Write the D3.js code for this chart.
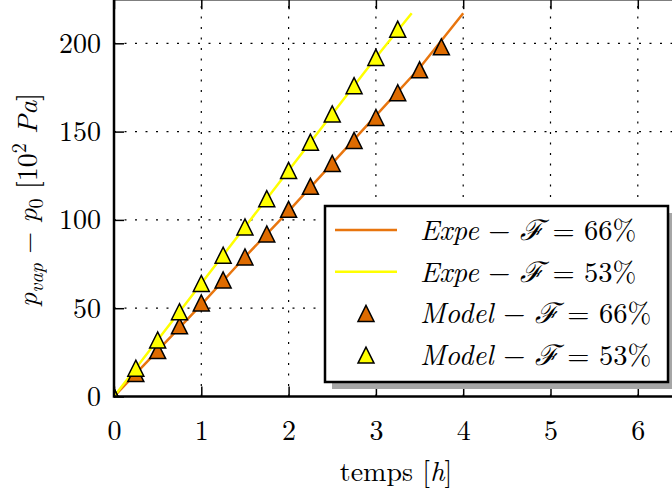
<!DOCTYPE html>
<html><head><meta charset="utf-8">
<script src="https://cdn.jsdelivr.net/npm/d3@7"></script>
<style>html,body{margin:0;padding:0;background:#fff;overflow:hidden}svg{display:block}</style>
</head><body>
<script>
// ---- data ----
const modelT66 = [0,0.25,0.5,0.75,1,1.25,1.5,1.75,2,2.25,2.5,2.75,3,3.25,3.5,3.75];
const model66  = [0,13,26,40,53,66,79,92,106,119,132,145,158,172,185,198];
const modelT53 = [0,0.25,0.5,0.75,1,1.25,1.5,1.75,2,2.25,2.5,2.75,3,3.25];
const model53  = [0,16,32,48,64,80,96,112,128,144,160,176,192,208];
const expeT66 = [0,0.5,1,1.5,2,2.5,3,3.5,4.0];
const expe66  = [0,26,52,79,105,132,159,186,217];
const expeT53 = [0,0.5,1,1.5,2,2.5,3,3.41];
const expe53  = [0,32,64,96,128,160,192,217];
const xTicks = [0,1,2,3,4,5,6];
const yTicks = [0,50,100,150,200];
const legendLabels = [
  {kind:"line", color:"#e8750e", pre:"Expe", val:" = 66%"},
  {kind:"line", color:"#ffff00", pre:"Expe", val:" = 53%"},
  {kind:"tri", color:"#de6b00", pre:"Model", val:" = 66%"},
  {kind:"tri", color:"#ffff00", pre:"Model", val:" = 53%"}
];

const W = 672, H = 494;
const svg = d3.select("body").append("svg").attr("width", W).attr("height", H);
const x = d3.scaleLinear().domain([0, 6.5]).range([114, 114 + 6.5*87.3]);
const y = d3.scaleLinear().domain([0, 225]).range([396.5, 396.5 - 225*1.766]);
const FONT = "'Latin Modern Roman', 'Liberation Serif', serif";

svg.append("defs").append("clipPath").attr("id","clip")
  .append("rect").attr("x", x(0)).attr("y", y(225)).attr("width", x(6.5)-x(0)).attr("height", y(0)-y(225));

// grid
const grid = svg.append("g").attr("stroke","#000").attr("stroke-width",1.2).attr("stroke-dasharray","2,8.5");
xTicks.filter(d=>d>0).forEach(d=>grid.append("line").attr("x1",x(d)).attr("x2",x(d)).attr("y1",y(0)).attr("y2",y(225)));
yTicks.filter(d=>d>0).forEach(d=>grid.append("line").attr("x1",x(0)).attr("x2",x(6.5)).attr("y1",y(d)).attr("y2",y(d)));

// axes with inward ticks
const axB = d3.axisBottom(x).tickValues(xTicks).tickSizeInner(-10).tickSizeOuter(0).tickFormat(d3.format("d")).tickPadding(24);
const axT = d3.axisTop(x).tickValues(xTicks).tickSizeInner(-10).tickSizeOuter(0).tickFormat("");
const axL = d3.axisLeft(y).tickValues(yTicks).tickSizeInner(-10).tickSizeOuter(0).tickFormat(d3.format("d")).tickPadding(13);
function styleAxis(g){
  g.select(".domain").remove();
  g.attr("font-family", null);
  g.selectAll(".tick line").attr("stroke","#000").attr("stroke-width",1.5);
  g.selectAll(".tick text").style("font-family",FONT).attr("font-size",28).attr("fill","#000");
}
svg.append("g").attr("transform",`translate(0,${y(0)})`).call(axB).call(styleAxis);
svg.append("g").attr("transform",`translate(0,${y(225)})`).call(axT).call(styleAxis);
svg.append("g").attr("transform",`translate(${x(0)},0)`).call(axL).call(styleAxis);

// data
const plot = svg.append("g").attr("clip-path","url(#clip)");
const line = d3.line().x(d=>x(d[0])).y(d=>y(d[1]));
plot.append("path").datum(d3.zip(expeT66, expe66)).attr("d", line).attr("fill","none").attr("stroke","#e8750e").attr("stroke-width",2.5);
plot.append("path").datum(d3.zip(expeT53, expe53)).attr("d", line).attr("fill","none").attr("stroke","#ffff00").attr("stroke-width",2.5);
const tri = (cx, cy, s) => `M${cx},${cy-s}L${cx-s},${cy+s}L${cx+s},${cy+s}Z`;
plot.selectAll(".m66").data(d3.zip(modelT66, model66)).join("path")
  .attr("d", d=>tri(x(d[0]), y(d[1]), 8)).attr("fill","#de6b00").attr("stroke","#000").attr("stroke-width",1.5);
plot.selectAll(".m53").data(d3.zip(modelT53, model53)).join("path")
  .attr("d", d=>tri(x(d[0]), y(d[1]), 8)).attr("fill","#ffff00").attr("stroke","#000").attr("stroke-width",1.5);

// spines
svg.append("line").attr("x1",x(0)).attr("x2",x(0)).attr("y1",y(0)+1.25).attr("y2",y(225)).attr("stroke","#000").attr("stroke-width",2.5);
svg.append("line").attr("x1",x(0)).attr("x2",x(6.5)).attr("y1",y(0)).attr("y2",y(0)).attr("stroke","#000").attr("stroke-width",2.5);
svg.append("line").attr("x1",x(0)).attr("x2",x(6.5)).attr("y1",y(225)).attr("y2",y(225)).attr("stroke","#000").attr("stroke-width",2.5);

// axis labels
const xl = svg.append("text").attr("x", 396).attr("y", 481).attr("text-anchor","middle")
  .style("font-family",FONT).attr("font-size",28).attr("fill","#000");
xl.append("tspan").text("temps [");
xl.append("tspan").attr("font-style","italic").text("h");
xl.append("tspan").text("]");

const yl = svg.append("text").attr("transform","translate(37,200) rotate(-90)").attr("text-anchor","middle")
  .style("font-family",FONT).attr("font-size",28).attr("fill","#000");
yl.append("tspan").attr("font-style","italic").text("p");
yl.append("tspan").attr("font-style","italic").attr("font-size",20).attr("dy",6).text("vap");
yl.append("tspan").attr("dy",-6).text(" − ");
yl.append("tspan").attr("font-style","italic").text("p");
yl.append("tspan").attr("font-size",20).attr("dy",6).text("0");
yl.append("tspan").attr("dy",-6).text(" [10");
yl.append("tspan").attr("font-size",20).attr("dy",-11).text("2");
yl.append("tspan").attr("dy",11).text(" ");
yl.append("tspan").attr("font-style","italic").text("Pa");
yl.append("tspan").text("]");

// legend
const lg = svg.append("g");
lg.append("rect").attr("x",332).attr("y",213).attr("width",343).attr("height",176).attr("fill","#a6a6a6");
lg.append("rect").attr("x",325).attr("y",206).attr("width",343).attr("height",176).attr("fill","#fff").attr("stroke","#000").attr("stroke-width",2.5);
legendLabels.forEach((e,i)=>{
  const cy = 230 + i*41.7;
  if (e.kind === "line") {
    lg.append("line").attr("x1",335).attr("x2",397).attr("y1",cy).attr("y2",cy).attr("stroke",e.color).attr("stroke-width",2.5);
  } else {
    lg.append("path").attr("d", tri(366, cy, 8)).attr("fill",e.color).attr("stroke","#000").attr("stroke-width",1.5);
  }
  const t = lg.append("text").attr("x",420).attr("y",cy+10).style("font-family",FONT).attr("font-size",28.5).attr("fill","#000");
  t.append("tspan").attr("font-style","italic").text(e.pre);
  t.append("tspan").text(" − ");
  t.append("tspan").attr("font-style","italic").text("ℱ");
  t.append("tspan").text(e.val);
});
</script>
</body></html>
